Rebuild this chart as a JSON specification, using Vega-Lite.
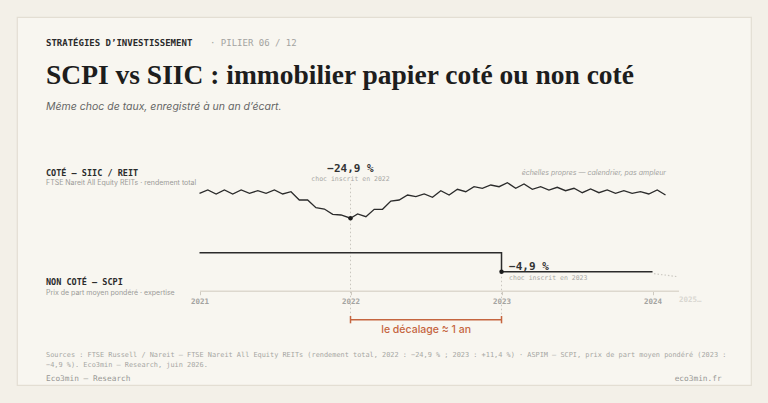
{
  "$schema": "https://vega.github.io/schema/vega-lite/v6.json",
  "description": "SCPI vs SIIC : choc de taux enregistré à un an d'écart",
  "width": 768,
  "height": 403,
  "autosize": {"type": "fit", "contains": "padding"},
  "padding": {"left": 17, "top": 17, "right": 17, "bottom": 18},
  "background": "#f3f0e8",
  "config": {
    "view": {"fill": "#f8f6f0", "stroke": "#e3ded3", "strokeWidth": 1.2},
    "text": {"font": "DejaVu Sans Mono"}
  },
  "title": {
    "text": "SCPI vs SIIC : immobilier papier coté ou non coté",
    "subtitle": "Même choc de taux, enregistré à un an d’écart.",
    "anchor": "start",
    "frame": "group",
    "dx": 29,
    "offset": -95,
    "font": "Liberation Serif",
    "fontSize": 27.5,
    "fontWeight": "bold",
    "color": "#1d1d1d",
    "subtitleFont": "Inter",
    "subtitleFontStyle": "italic",
    "subtitleFontSize": 10.5,
    "subtitleColor": "#666666",
    "subtitlePadding": 12
  },
  "datasets": {
    "cote": [
      {"annee": 2021.000, "indice": 100.0},
      {"annee": 2021.055, "indice": 103.3},
      {"annee": 2021.110, "indice": 99.3},
      {"annee": 2021.165, "indice": 103.3},
      {"annee": 2021.220, "indice": 99.3},
      {"annee": 2021.276, "indice": 103.3},
      {"annee": 2021.331, "indice": 100.0},
      {"annee": 2021.386, "indice": 102.6},
      {"annee": 2021.441, "indice": 100.0},
      {"annee": 2021.496, "indice": 103.3},
      {"annee": 2021.551, "indice": 99.3},
      {"annee": 2021.606, "indice": 101.6},
      {"annee": 2021.661, "indice": 93.3},
      {"annee": 2021.716, "indice": 93.3},
      {"annee": 2021.771, "indice": 85.6},
      {"annee": 2021.827, "indice": 84.3},
      {"annee": 2021.882, "indice": 79.0},
      {"annee": 2021.937, "indice": 78.3},
      {"annee": 2022.000, "indice": 75.1},
      {"annee": 2022.047, "indice": 79.3},
      {"annee": 2022.102, "indice": 76.6},
      {"annee": 2022.157, "indice": 84.0},
      {"annee": 2022.212, "indice": 84.0},
      {"annee": 2022.267, "indice": 92.3},
      {"annee": 2022.322, "indice": 93.3},
      {"annee": 2022.378, "indice": 98.3},
      {"annee": 2022.433, "indice": 96.6},
      {"annee": 2022.488, "indice": 99.3},
      {"annee": 2022.543, "indice": 96.0},
      {"annee": 2022.598, "indice": 102.6},
      {"annee": 2022.653, "indice": 98.3},
      {"annee": 2022.708, "indice": 104.0},
      {"annee": 2022.763, "indice": 101.6},
      {"annee": 2022.818, "indice": 106.6},
      {"annee": 2022.873, "indice": 105.0},
      {"annee": 2022.929, "indice": 108.3},
      {"annee": 2022.984, "indice": 106.6},
      {"annee": 2023.039, "indice": 110.6},
      {"annee": 2023.094, "indice": 105.0},
      {"annee": 2023.149, "indice": 109.3},
      {"annee": 2023.204, "indice": 104.0},
      {"annee": 2023.259, "indice": 106.6},
      {"annee": 2023.314, "indice": 103.3},
      {"annee": 2023.369, "indice": 106.0},
      {"annee": 2023.424, "indice": 102.6},
      {"annee": 2023.480, "indice": 105.0},
      {"annee": 2023.535, "indice": 100.6},
      {"annee": 2023.590, "indice": 104.3},
      {"annee": 2023.645, "indice": 100.6},
      {"annee": 2023.700, "indice": 103.3},
      {"annee": 2023.755, "indice": 100.0},
      {"annee": 2023.810, "indice": 102.6},
      {"annee": 2023.865, "indice": 100.0},
      {"annee": 2023.920, "indice": 101.6},
      {"annee": 2023.975, "indice": 99.3},
      {"annee": 2024.031, "indice": 103.3},
      {"annee": 2024.086, "indice": 98.3}
    ],
    "chocs_cote": [
      {"annee": 2022, "indice": 75.1, "variation": "−24,9 %", "note": "choc inscrit en 2022"}
    ],
    "non_cote": [
      {"annee": 2021, "prix": 100},
      {"annee": 2023, "prix": 95.1},
      {"annee": 2024, "prix": 95.1}
    ],
    "projection": [
      {"annee": 2024.01, "prix": 94.6},
      {"annee": 2024.17, "prix": 93.8}
    ],
    "chocs_non_cote": [
      {"annee": 2023, "prix": 95.1, "variation": "−4,9 %", "note": "choc inscrit en 2023", "debut_ecart": 2022, "ecart": "le décalage ≈ 1 an"}
    ]
  },
  "resolve": {"scale": {"y": "independent"}},
  "layer": [
    {
      "encoding": {
        "x": {
          "field": "annee",
          "type": "quantitative",
          "scale": {"domain": [2021, 2024.172], "range": [182.5, 661.5], "nice": false, "zero": false},
          "axis": {
            "title": null,
            "values": [2021, 2022, 2023, 2024],
            "format": "d",
            "offset": -94.3,
            "grid": false,
            "domainColor": "#ddd8ce",
            "domainWidth": 1.5,
            "tickSize": 4,
            "tickColor": "#cfcac0",
            "labelColor": "#a3a3a0",
            "labelFont": "DejaVu Sans Mono",
            "labelFontSize": 7.5,
            "labelFontWeight": "bold",
            "labelPadding": 3,
            "labelFlush": false,
            "labelOverlap": false
          }
        },
        "y": {
          "field": "indice",
          "type": "quantitative",
          "scale": {"domain": [60, 120], "range": [216.3, 156.3], "nice": false, "zero": false},
          "axis": null
        }
      },
      "layer": [
        {
          "data": {"name": "chocs_cote"},
          "mark": {"type": "rule", "color": "#c9c6bf", "strokeWidth": 1, "strokeDash": [1.5, 2.5], "yOffset": -34.5, "y2Offset": 103.7},
          "encoding": {"y2": {"field": "indice"}}
        },
        {
          "data": {"name": "cote"},
          "mark": {"type": "line", "color": "#2b2b2b", "strokeWidth": 1.3},
          "encoding": {}
        },
        {
          "data": {"name": "chocs_cote"},
          "mark": {"type": "circle", "size": 20, "color": "#1c1c1c", "opacity": 1}
        },
        {
          "data": {"name": "chocs_cote"},
          "mark": {"type": "text", "dy": -49.3, "fontSize": 11, "fontWeight": "bold", "color": "#333333"},
          "encoding": {"text": {"field": "variation"}}
        },
        {
          "data": {"name": "chocs_cote"},
          "mark": {"type": "text", "dy": -39.3, "fontSize": 6.5, "color": "#a8a8a5"},
          "encoding": {"text": {"field": "note"}}
        },
        {
          "data": {"name": "cote"},
          "transform": [{"filter": "datum.annee == 2021"}],
          "mark": {"type": "text", "text": "COTÉ — SIIC / REIT", "align": "left", "dx": -153.5, "dy": -20.6, "fontSize": 8.5, "fontWeight": "bold", "color": "#2b2b2b"}
        },
        {
          "data": {"name": "cote"},
          "transform": [{"filter": "datum.annee == 2021"}],
          "mark": {"type": "text", "text": "FTSE Nareit All Equity REITs · rendement total", "align": "left", "dx": -153.5, "dy": -10, "font": "Inter", "fontSize": 7, "color": "#9b9b98"}
        },
        {
          "data": {"name": "cote"},
          "transform": [{"filter": "datum.annee > 2024.08"}],
          "mark": {"type": "text", "text": "échelles propres — calendrier, pas ampleur", "align": "right", "dx": 0.5, "dy": -21.7, "font": "Inter", "fontStyle": "italic", "fontSize": 7, "color": "#a3a3a0"}
        },
        {
          "data": {"name": "cote"},
          "transform": [{"filter": "datum.annee == 2021"}],
          "mark": {"type": "text", "text": "STRATÉGIES D’INVESTISSEMENT", "align": "left", "dx": -153.5, "dy": -150.3, "fontSize": 9, "fontWeight": "bold", "color": "#2b2b2b"}
        },
        {
          "data": {"name": "cote"},
          "transform": [{"filter": "datum.annee == 2021"}],
          "mark": {"type": "text", "text": "·  PILIER 06 / 12", "align": "left", "dx": 10.5, "dy": -150.3, "fontSize": 9, "color": "#a3a3a0"}
        },
        {
          "data": {"name": "cote"},
          "transform": [{"filter": "datum.annee == 2021"}],
          "mark": {"type": "text", "text": "Sources : FTSE Russell / Nareit — FTSE Nareit All Equity REITs (rendement total, 2022 : −24,9 % ; 2023 : +11,4 %) · ASPIM — SCPI, prix de part moyen pondéré (2023 :", "align": "left", "dx": -153.5, "dy": 161.7, "fontSize": 6.9, "color": "#a6a6a3"}
        },
        {
          "data": {"name": "cote"},
          "transform": [{"filter": "datum.annee == 2021"}],
          "mark": {"type": "text", "text": "−4,9 %). Eco3min — Research, juin 2026.", "align": "left", "dx": -153.5, "dy": 171.4, "fontSize": 6.9, "color": "#a6a6a3"}
        },
        {
          "data": {"name": "cote"},
          "transform": [{"filter": "datum.annee == 2021"}],
          "mark": {"type": "text", "text": "Eco3min — Research", "align": "left", "dx": -153.5, "dy": 186, "fontSize": 7.8, "color": "#979794"}
        },
        {
          "data": {"name": "cote"},
          "transform": [{"filter": "datum.annee > 2024.08"}],
          "mark": {"type": "text", "text": "eco3min.fr", "align": "right", "dx": 56.1, "dy": 184.3, "fontSize": 7.8, "color": "#979794"}
        }
      ]
    },
    {
      "encoding": {
        "x": {
          "field": "annee",
          "type": "quantitative",
          "scale": {"domain": [2021, 2024.172], "range": [182.5, 661.5], "nice": false, "zero": false}
        },
        "y": {
          "field": "prix",
          "type": "quantitative",
          "scale": {"domain": [90, 100], "range": [274.5, 235.7], "nice": false, "zero": false},
          "axis": null
        }
      },
      "layer": [
        {
          "data": {"name": "chocs_non_cote"},
          "mark": {"type": "rule", "color": "#c9c6bf", "strokeWidth": 1, "strokeDash": [1.5, 2.5], "yOffset": 1, "y2Offset": 50},
          "encoding": {"y2": {"field": "prix"}}
        },
        {
          "data": {"name": "chocs_non_cote"},
          "mark": {"type": "rule", "color": "#c5653f", "strokeWidth": 1.5, "yOffset": 48},
          "encoding": {
            "x": {"field": "debut_ecart", "type": "quantitative", "scale": {"domain": [2021, 2024.172], "range": [182.5, 661.5], "nice": false, "zero": false}},
            "x2": {"field": "annee"}
          }
        },
        {
          "data": {"name": "chocs_non_cote"},
          "mark": {"type": "rule", "color": "#c5653f", "strokeWidth": 1.5, "yOffset": 44.3, "y2Offset": 51.6},
          "encoding": {"y2": {"field": "prix"}}
        },
        {
          "data": {"name": "chocs_non_cote"},
          "mark": {"type": "rule", "color": "#c5653f", "strokeWidth": 1.5, "yOffset": 44.3, "y2Offset": 51.6},
          "encoding": {
            "x": {"field": "debut_ecart", "type": "quantitative", "scale": {"domain": [2021, 2024.172], "range": [182.5, 661.5], "nice": false, "zero": false}},
            "y2": {"field": "prix"}
          }
        },
        {
          "data": {"name": "chocs_non_cote"},
          "mark": {"type": "text", "dx": 75.6, "dy": 58.6, "font": "Inter", "fontSize": 10.5, "fontWeight": 500, "color": "#c5653f"},
          "encoding": {
            "x": {"field": "debut_ecart", "type": "quantitative", "scale": {"domain": [2021, 2024.172], "range": [182.5, 661.5], "nice": false, "zero": false}},
            "text": {"field": "ecart"}
          }
        },
        {
          "data": {"name": "non_cote"},
          "mark": {"type": "line", "interpolate": "step-after", "color": "#2b2b2b", "strokeWidth": 1.5},
          "encoding": {}
        },
        {
          "data": {"name": "projection"},
          "mark": {"type": "line", "color": "#cdcac3", "strokeWidth": 1.2, "strokeDash": [1.5, 2]},
          "encoding": {}
        },
        {
          "data": {"name": "projection"},
          "transform": [{"filter": "datum.annee > 2024.1"}],
          "mark": {"type": "text", "text": "2025…", "dx": 12, "dy": 23.6, "fontSize": 7.5, "fontWeight": "bold", "color": "#d9d7d1"}
        },
        {
          "data": {"name": "chocs_non_cote"},
          "mark": {"type": "circle", "size": 20, "color": "#1c1c1c", "opacity": 1}
        },
        {
          "data": {"name": "chocs_non_cote"},
          "mark": {"type": "text", "align": "left", "dx": 7.6, "dy": -5, "fontSize": 11, "fontWeight": "bold", "color": "#333333"},
          "encoding": {"text": {"field": "variation"}}
        },
        {
          "data": {"name": "chocs_non_cote"},
          "mark": {"type": "text", "align": "left", "dx": 7.6, "dy": 6.3, "fontSize": 6.5, "color": "#a8a8a5"},
          "encoding": {"text": {"field": "note"}}
        },
        {
          "data": {"name": "non_cote"},
          "transform": [{"filter": "datum.annee == 2021"}],
          "mark": {"type": "text", "text": "NON COTÉ — SCPI", "align": "left", "dx": -153.5, "dy": 29.6, "fontSize": 8.5, "fontWeight": "bold", "color": "#2b2b2b"}
        },
        {
          "data": {"name": "non_cote"},
          "transform": [{"filter": "datum.annee == 2021"}],
          "mark": {"type": "text", "text": "Prix de part moyen pondéré · expertise", "align": "left", "dx": -153.5, "dy": 40, "font": "Inter", "fontSize": 7, "color": "#9b9b98"}
        }
      ]
    }
  ]
}
